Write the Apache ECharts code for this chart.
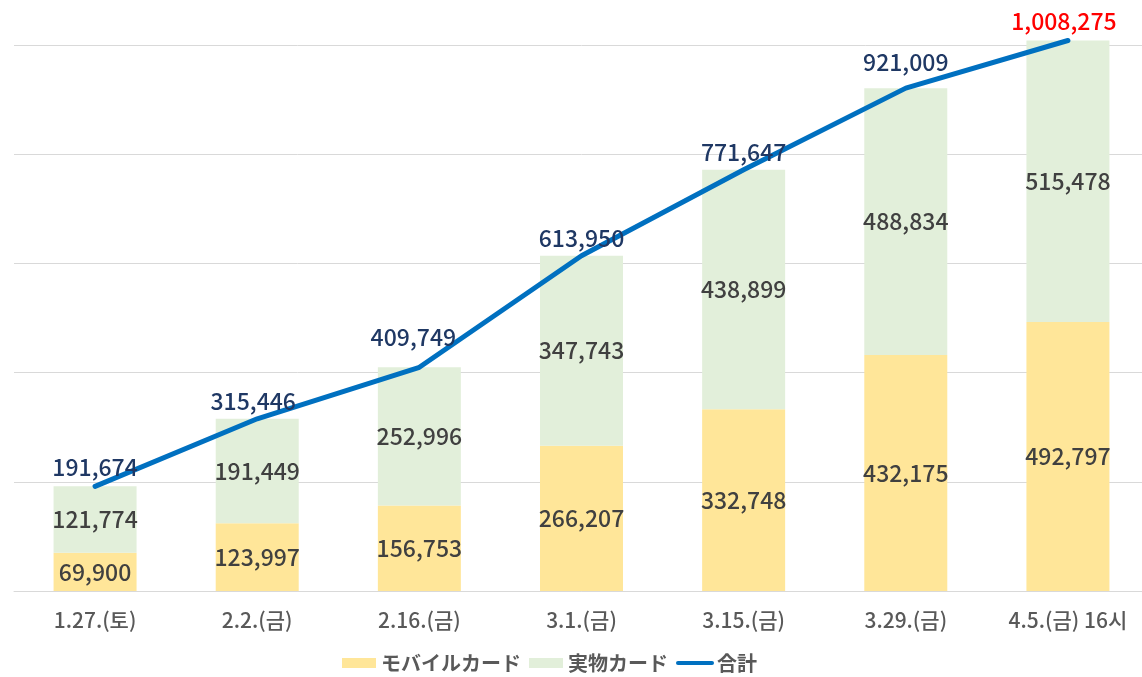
<!DOCTYPE html>
<html>
<head>
<meta charset="utf-8">
<script src="https://cdn.jsdelivr.net/npm/echarts@6/dist/echarts.min.js"></script>
<style>html,body{margin:0;padding:0;background:#fff;overflow:hidden;}#c{width:1150px;height:677px;}</style>
</head>
<body>
<div id="c"></div>
<script>
const categories = ['1.27.(토)', '2.2.(금)', '2.16.(금)', '3.1.(금)', '3.15.(금)', '3.29.(금)', '4.5.(금) 16시'];
const mobileCard = [69900, 123997, 156753, 266207, 332748, 432175, 492797];
const physicalCard = [121774, 191449, 252996, 347743, 438899, 488834, 515478];
const total = [191674, 315446, 409749, 613950, 771647, 921009, 1008275];
const seriesNames = ['モバイルカード', '実物カード', '合計'];

const FONT = '"Noto Sans CJK KR", "Noto Sans", sans-serif';
const fmt = v => v.toLocaleString('en-US');

const chart = echarts.init(document.getElementById('c'));
// label placement tweaks per point (style only)
const labelTweaks = [
  { distance: 8 },
  { offset: [-4, 0] },
  { distance: 18, offset: [-6, 0] },
  {},
  {},
  { distance: 14 },
  { distance: 8, offset: [-4, 0], color: '#FF0000' }
];
const totalData = total.map((v, i) => ({ value: v, label: labelTweaks[i] }));
chart.setOption({
  animation: false,
  textStyle: { fontFamily: FONT },
  grid: { left: 14, top: 45, right: 1, height: 546, containLabel: false },
  legend: {
    top: 648, left: 337,
    itemWidth: 34, itemHeight: 10, itemGap: 8,
    textStyle: { fontFamily: FONT, fontSize: 20, fontWeight: 'bold', color: '#595959' },
    data: [
      { name: seriesNames[0], icon: 'rect' },
      { name: seriesNames[1], icon: 'rect' },
      { name: seriesNames[2], itemStyle: { opacity: 0 }, lineStyle: { width: 4 } }
    ]
  },
  xAxis: {
    type: 'category', data: categories,
    axisTick: { show: false },
    axisLine: { lineStyle: { color: '#d9d9d9', width: 1 } },
    axisLabel: { fontFamily: FONT, fontSize: 21, fontWeight: 500, color: '#595959', margin: 19 }
  },
  yAxis: {
    type: 'value', min: 0, max: 1000000, interval: 200000,
    axisLabel: { show: false }, axisLine: { show: false }, axisTick: { show: false },
    splitLine: { lineStyle: { color: '#d9d9d9', width: 1 } }
  },
  series: [
    {
      name: seriesNames[0], type: 'bar', stack: 'a', barWidth: 83, clip: false,
      itemStyle: { color: '#FFE699' }, data: mobileCard,
      label: { show: true, position: 'inside', fontFamily: FONT, fontSize: 23, fontWeight: 500, color: '#404040', formatter: p => fmt(p.value) }
    },
    {
      name: seriesNames[1], type: 'bar', stack: 'a', barWidth: 83, clip: false,
      itemStyle: { color: '#E2EFDA' }, data: physicalCard,
      label: { show: true, position: 'inside', fontFamily: FONT, fontSize: 23, fontWeight: 500, color: '#404040', formatter: p => fmt(p.value) }
    },
    {
      name: seriesNames[2], type: 'line', clip: false, symbol: 'circle', symbolSize: 0.1, showSymbol: true,
      lineStyle: { color: '#0070C0', width: 5, cap: 'round' }, itemStyle: { color: '#0070C0' },
      data: totalData, z: 5,
      label: { show: true, position: 'top', distance: 6, fontFamily: FONT, fontSize: 23, fontWeight: 500, color: '#1F3864', formatter: p => fmt(p.value) }
    }
  ]
});
</script>
</body>
</html>
